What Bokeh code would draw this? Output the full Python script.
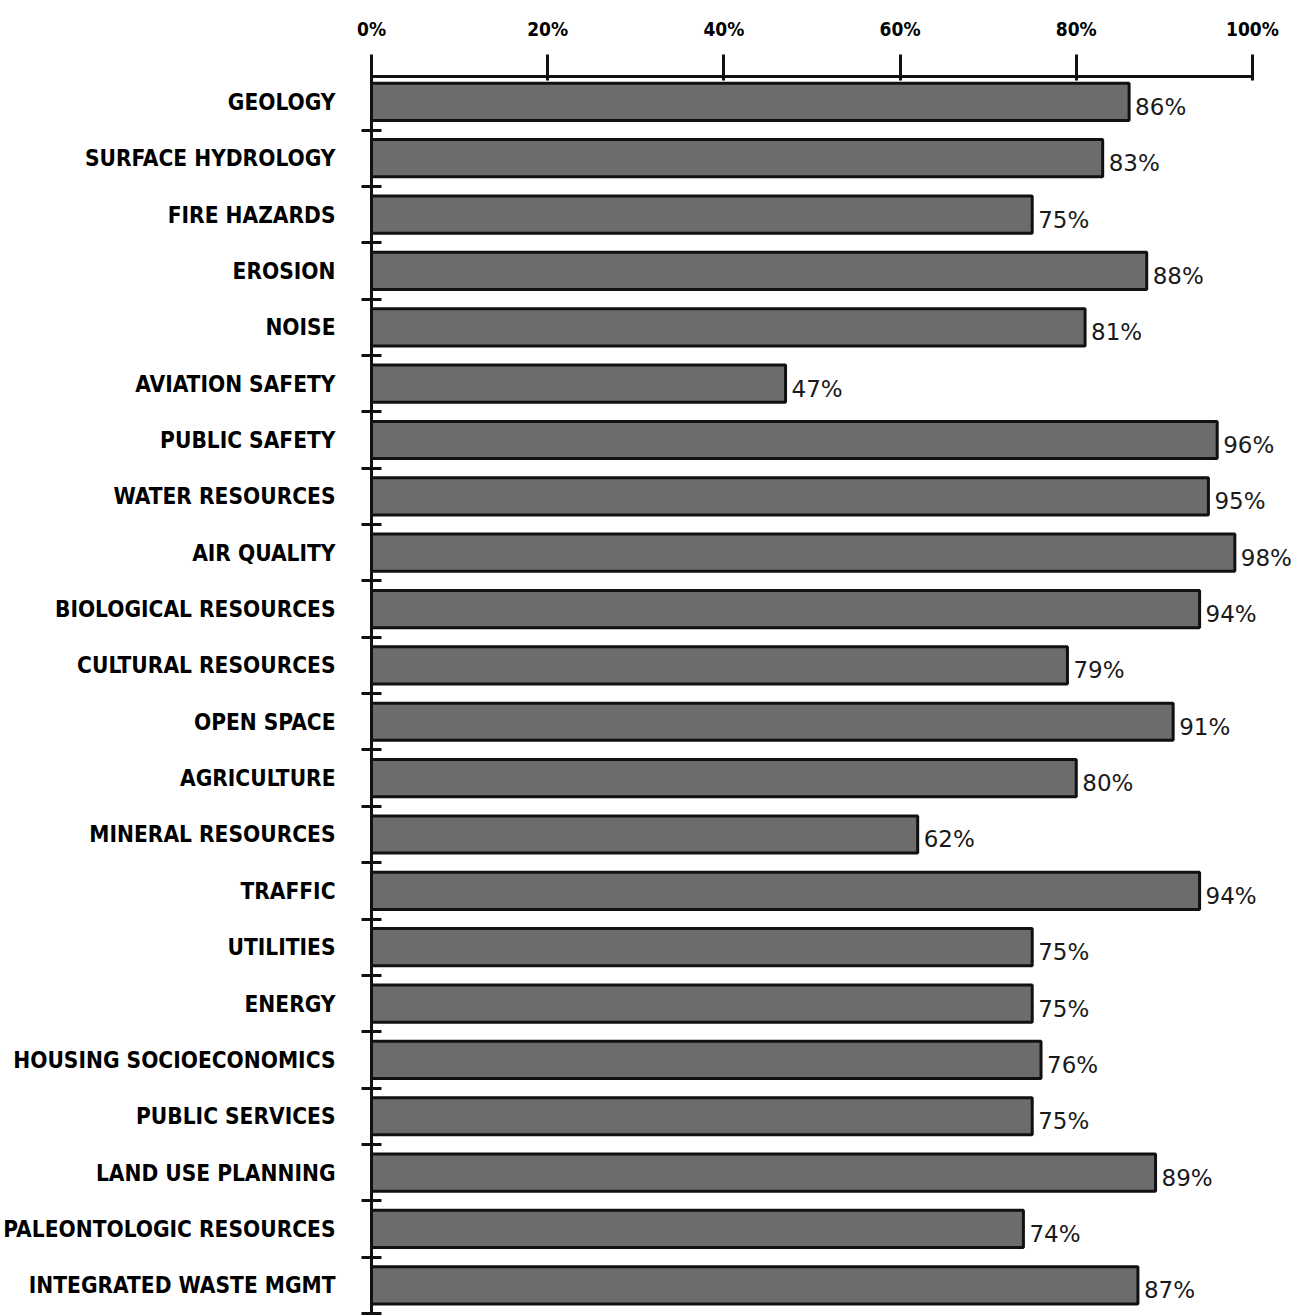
from bokeh.plotting import figure
from bokeh.models import Range1d, FixedTicker, PrintfTickFormatter, ColumnDataSource
from bokeh.core.properties import value
from bokeh.embed import file_html
from bokeh.resources import INLINE

categories = ["GEOLOGY", "SURFACE HYDROLOGY", "FIRE HAZARDS", "EROSION", "NOISE",
              "AVIATION SAFETY", "PUBLIC SAFETY", "WATER RESOURCES", "AIR QUALITY",
              "BIOLOGICAL RESOURCES", "CULTURAL RESOURCES", "OPEN SPACE", "AGRICULTURE",
              "MINERAL RESOURCES", "TRAFFIC", "UTILITIES", "ENERGY",
              "HOUSING SOCIOECONOMICS", "PUBLIC SERVICES", "LAND USE PLANNING",
              "PALEONTOLOGIC RESOURCES", "INTEGRATED WASTE MGMT"]
values = [86, 83, 75, 88, 81, 47, 96, 95, 98, 94, 79, 91, 80, 62, 94, 75, 75, 76, 75, 89, 74, 87]
x_ticks = [0, 20, 40, 60, 80, 100]

idx = list(range(len(categories)))
src = ColumnDataSource(dict(y=idx, v=values, lab=[f"{v}%" for v in values]))

p = figure(width=1296, height=1315, output_backend="svg", toolbar_location=None,
           x_range=Range1d(0, 105), y_range=Range1d(21.5, -0.45),
           x_axis_location="above", min_border_left=368, min_border_right=0,
           min_border_top=76, min_border_bottom=2)
p.outline_line_color = None
p.xgrid.visible = False
p.ygrid.visible = False
p.background_fill_color = "white"
p.border_fill_color = "white"

p.hbar(y="y", left=0, right="v", height=0.66, source=src,
       fill_color="#6c6c6c", line_color="#111111", line_width=3)
p.text(x="v", y="y", text="lab", source=src, x_offset=6, y_offset=5,
       text_baseline="middle", text_align="left", text_font=value("DejaVu Sans"),
       text_font_size="23px", text_color="#1a1a1a")

xa = p.xaxis[0]
xa.ticker = FixedTicker(ticks=x_ticks, minor_ticks=[])
xa.formatter = PrintfTickFormatter(format="%d%%")
xa.bounds = (0, 100)
xa.axis_line_width = 3
xa.axis_line_color = "#111111"
xa.major_tick_line_width = 3
xa.major_tick_line_color = "#111111"
xa.major_tick_out = 22
xa.major_tick_in = 4
xa.minor_tick_line_color = None
xa.major_label_standoff = 15
xa.major_label_text_font = "DejaVu Sans Condensed"
xa.major_label_text_font_style = "bold"
xa.major_label_text_font_size = "19px"
xa.major_label_text_color = "#000000"

ya = p.yaxis[0]
ya.ticker = FixedTicker(ticks=idx, minor_ticks=[i + 0.5 for i in idx])
ya.major_label_overrides = {i: c for i, c in zip(idx, categories)}
ya.axis_line_width = 3
ya.axis_line_color = "#111111"
ya.major_tick_line_color = None
ya.major_tick_in = 0
ya.major_tick_out = 0
ya.minor_tick_line_width = 3
ya.minor_tick_line_color = "#111111"
ya.minor_tick_in = 10
ya.minor_tick_out = 10
ya.major_label_standoff = 26
ya.major_label_text_font = "DejaVu Sans Condensed"
ya.major_label_text_font_style = "bold"
ya.major_label_text_font_size = "22.5px"
ya.major_label_text_color = "#000000"

open("out.html", "w").write(file_html(p, INLINE))
